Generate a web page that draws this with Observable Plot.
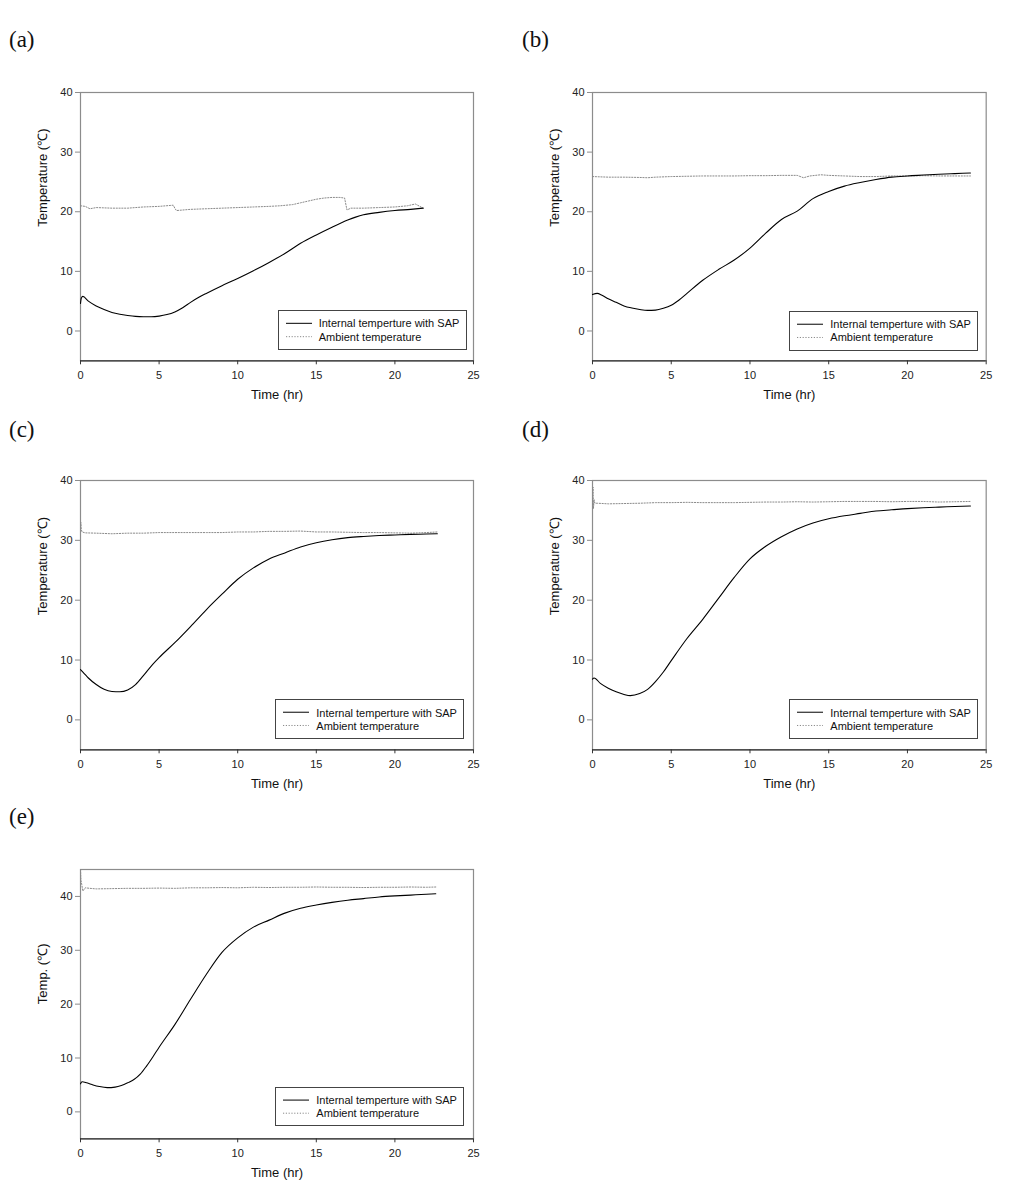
<!DOCTYPE html>
<html>
<head>
<meta charset="utf-8">
<script src="https://cdn.jsdelivr.net/npm/d3@7"></script>
<script src="https://cdn.jsdelivr.net/npm/@observablehq/plot@0.6"></script>
<style>
  html, body { margin: 0; padding: 0; background: #fff; }
  body { width: 1021px; height: 1198px; position: relative; overflow: hidden; font-family: "Liberation Sans", Arial, sans-serif; }
  .panel { position: absolute; }
  .plabel { position: absolute; font-family: "Liberation Serif", "Times New Roman", serif; font-size: 23px; color: #111; line-height: 1; }
  .legend { position: absolute; border: 1px solid #444; background: #fff; box-sizing: border-box; font-size: 11px; color: #111; }
  .legend .row { position: absolute; left: 0; white-space: nowrap; }
  .legend svg { position: absolute; left: 0; top: 0; }
  .legend span { position: absolute; left: 40px; white-space: nowrap; }
</style>
</head>
<body>
<script>
// ---------- data ----------
const xTicks = [0, 5, 10, 15, 20, 25];
const yTicks = [0, 10, 20, 30, 40];
const panelLetters = ["(a)", "(b)", "(c)", "(d)", "(e)"];
const yLabels = ["Temperature (\u2103)", "Temperature (\u2103)", "Temperature (\u2103)", "Temperature (\u2103)", "Temp. (\u2103)"];
const seriesNames = ["Internal temperture with SAP", "Ambient temperature"];
const xLabel = "Time (hr)";

// (a)
const aIntT = [0, 0.05, 0.15, 0.5, 1.0, 1.5, 2, 2.5, 3, 3.5, 4, 4.5, 5, 5.5, 6, 6.5, 7, 7.5, 8, 9, 10, 11, 12, 13, 14, 15, 16, 17, 17.5, 18, 19, 20, 21, 21.8];
const aIntV = [4.6, 5.5, 5.8, 5.0, 4.2, 3.6, 3.1, 2.8, 2.6, 2.45, 2.4, 2.4, 2.5, 2.75, 3.2, 3.9, 4.8, 5.6, 6.3, 7.6, 8.8, 10.1, 11.5, 13.0, 14.7, 16.1, 17.4, 18.6, 19.1, 19.5, 19.9, 20.2, 20.4, 20.6];
const aAmbT = [0, 0.3, 0.6, 1.0, 2, 3, 4, 5, 5.9, 6.0, 6.1, 7, 8, 9, 10, 11, 12, 12.7, 13.5, 14, 14.5, 15, 15.5, 16, 16.5, 16.8, 16.95, 17.2, 18, 19, 20, 20.8, 21.3, 21.8];
const aAmbV = [21.0, 20.9, 20.5, 20.7, 20.6, 20.6, 20.8, 20.9, 21.1, 20.6, 20.2, 20.4, 20.5, 20.6, 20.7, 20.8, 20.9, 21.0, 21.2, 21.5, 21.8, 22.1, 22.3, 22.4, 22.4, 22.3, 20.3, 20.6, 20.6, 20.7, 20.8, 21.0, 21.3, 20.6];

// (b)
const bIntT = [0, 0.3, 0.6, 1, 1.5, 2, 2.5, 3, 3.5, 4, 4.5, 5, 5.5, 6, 7, 8, 9, 10, 11, 12, 13, 14, 15, 16, 17, 18, 19, 20, 21, 22, 23, 24];
const bIntV = [6.1, 6.3, 6.0, 5.4, 4.8, 4.2, 3.85, 3.6, 3.45, 3.5, 3.8, 4.3, 5.2, 6.3, 8.5, 10.3, 11.9, 13.9, 16.4, 18.7, 20.1, 22.2, 23.4, 24.3, 24.9, 25.4, 25.8, 26.0, 26.15, 26.3, 26.4, 26.5];
const bAmbT = [0, 1, 2, 3, 3.5, 4, 5, 6, 7, 8, 9, 10, 11, 12, 13, 13.4, 13.8, 14.5, 15, 16, 17, 18, 19, 20, 21, 22, 23, 24];
const bAmbV = [25.9, 25.8, 25.8, 25.75, 25.7, 25.8, 25.9, 25.95, 26.0, 26.0, 26.0, 26.05, 26.05, 26.1, 26.1, 25.7, 26.0, 26.2, 26.1, 26.0, 25.9, 25.9, 26.0, 26.0, 26.05, 26.0, 26.0, 26.0];

// (c)
const cIntT = [0, 0.25, 0.5, 1, 1.5, 2, 2.5, 3, 3.5, 4, 4.5, 5, 6, 7, 8, 9, 10, 11, 12, 13, 14, 15, 16, 17, 18, 19, 20, 21, 22, 22.7];
const cIntV = [8.4, 7.7, 7.0, 5.9, 5.1, 4.75, 4.7, 5.0, 5.9, 7.4, 9.0, 10.4, 12.9, 15.6, 18.4, 21.0, 23.5, 25.4, 26.9, 27.9, 28.9, 29.6, 30.1, 30.45, 30.65, 30.8, 30.9, 31.0, 31.05, 31.1];
const cAmbT = [0, 0.02, 0.05, 0.1, 0.3, 1, 2, 3, 4, 5, 6, 7, 8, 9, 10, 11, 12, 13, 14, 15, 16, 17, 18, 19, 20, 21, 22, 22.7];
const cAmbV = [32.0, 33.0, 31.8, 31.4, 31.25, 31.2, 31.1, 31.2, 31.2, 31.3, 31.3, 31.3, 31.3, 31.3, 31.4, 31.4, 31.5, 31.5, 31.55, 31.4, 31.4, 31.35, 31.3, 31.3, 31.25, 31.2, 31.3, 31.4];

// (d)
const dIntT = [0, 0.1, 0.5, 1, 1.5, 2, 2.4, 3, 3.5, 4, 4.5, 5, 6, 7, 8, 9, 10, 11, 12, 13, 14, 15, 16, 17, 18, 19, 20, 21, 22, 23, 24];
const dIntV = [6.8, 7.0, 6.1, 5.3, 4.7, 4.25, 4.05, 4.4, 5.1, 6.4, 8.0, 9.9, 13.6, 16.8, 20.3, 23.8, 26.9, 29.0, 30.6, 31.9, 32.9, 33.6, 34.1, 34.5, 34.9, 35.1, 35.3, 35.45, 35.55, 35.65, 35.75];
const dAmbT = [0, 0.03, 0.06, 0.1, 0.15, 0.3, 1, 2, 3, 4, 5, 6, 7, 8, 9, 10, 11, 12, 13, 14, 15, 16, 17, 18, 19, 20, 21, 22, 23, 24];
const dAmbV = [36.0, 38.9, 35.3, 36.8, 36.2, 36.2, 36.1, 36.15, 36.2, 36.3, 36.3, 36.35, 36.3, 36.3, 36.3, 36.35, 36.4, 36.4, 36.45, 36.4, 36.45, 36.5, 36.5, 36.5, 36.45, 36.5, 36.5, 36.4, 36.45, 36.5];

// (e)
const eIntT = [0, 0.1, 0.4, 0.8, 1.2, 1.7, 2.2, 2.6, 3, 3.4, 3.8, 4.2, 4.6, 5, 6, 7, 8, 9, 10, 11, 12, 13, 14, 15, 16, 17, 18, 19, 20, 21, 22, 22.6];
const eIntV = [5.2, 5.6, 5.4, 5.0, 4.7, 4.5, 4.6, 4.9, 5.4, 6.0, 7.0, 8.5, 10.2, 12.0, 16.2, 20.9, 25.5, 29.6, 32.3, 34.3, 35.6, 36.9, 37.8, 38.4, 38.9, 39.3, 39.6, 39.9, 40.1, 40.25, 40.4, 40.5];
const eAmbT = [0, 0.03, 0.08, 0.15, 0.3, 0.6, 1, 2, 3, 4, 5, 6, 7, 8, 9, 10, 11, 12, 13, 14, 15, 16, 17, 18, 19, 20, 21, 22, 22.6];
const eAmbV = [45.0, 43.0, 42.2, 41.0, 41.6, 41.5, 41.4, 41.45, 41.5, 41.5, 41.55, 41.5, 41.6, 41.6, 41.65, 41.6, 41.7, 41.65, 41.7, 41.7, 41.75, 41.7, 41.7, 41.65, 41.7, 41.7, 41.75, 41.7, 41.75];

const yDomains = [[-5, 40], [-5, 40], [-5, 40], [-5, 40], [-5, 45]];

// ---------- layout (pixel frames) ----------
const frames = [
  {L: 80,    T: 91.7, R: 473, B: 360},
  {L: 592.3, T: 91.7, R: 986, B: 360},
  {L: 80,    T: 480,  R: 473, B: 749.3},
  {L: 592.3, T: 480,  R: 986, B: 749.3},
  {L: 80,    T: 869,  R: 473, B: 1138.3}
];
const letterPos = [[9, 28], [522, 28], [9, 418], [522, 418], [9, 805]];
const legendPos = [
  {l: 277.7, t: 310, r: 466.7, b: 350},
  {l: 789.3, t: 311, r: 978.3, b: 350.7},
  {l: 275.3, t: 699.3, r: 464.3, b: 739},
  {l: 789.3, t: 699.3, r: 978.3, b: 739},
  {l: 275.3, t: 1086.7, r: 464.3, b: 1126}
];

const series = [
  [aIntT, aIntV, aAmbT, aAmbV],
  [bIntT, bIntV, bAmbT, bAmbV],
  [cIntT, cIntV, cAmbT, cAmbV],
  [dIntT, dIntV, dAmbT, dAmbV],
  [eIntT, eIntV, eAmbT, eAmbV]
];

const ambStroke = "#8a8a8a";
const ambDash = "1.2,1.6";

function toRows(ts, vs) { return ts.map((t, i) => ({t, v: vs[i]})); }

const mL = 80, mT = 30, mR = 35, mB = 55;

series.forEach((s, i) => {
  const f = frames[i];
  const W = (f.R - f.L) + mL + mR;
  const H = (f.B - f.T) + mT + mB;
  const yd = yDomains[i];
  const internal = toRows(s[0], s[1]);
  const ambient = toRows(s[2], s[3]);
  const chart = Plot.plot({
    width: W,
    height: H,
    marginLeft: mL, marginTop: mT, marginRight: mR, marginBottom: mB,
    x: {domain: [0, 25]},
    y: {domain: yd},
    style: {fontFamily: "'Liberation Sans', Arial, sans-serif", background: "transparent", overflow: "visible"},
    marks: [
      Plot.frame({stroke: "#8c8c8c", strokeWidth: 1.2}),
      Plot.ruleY([yd[0]], {stroke: "#333", strokeWidth: 1.2}),
      Plot.axisY({ticks: yTicks, tickSize: 5, tickPadding: 3, stroke: "#8c8c8c", fill: "#222", fontSize: 11, label: null, tickFormat: d => String(d)}),
      Plot.axisX({ticks: xTicks, tickSize: 4, tickPadding: 6, stroke: "#333", fill: "#222", fontSize: 11, label: null, tickFormat: d => String(d)}),
      Plot.line(ambient, {x: "t", y: "v", stroke: ambStroke, strokeWidth: 1, strokeDasharray: ambDash, clip: true}),
      Plot.line(internal, {x: "t", y: "v", stroke: "#000", strokeWidth: 1.1, curve: "monotone-x", clip: true}),
      Plot.text([yLabels[i]], {frameAnchor: "left", dx: -38, rotate: -90, fontSize: 13, fill: "#111", text: d => d}),
      Plot.text([xLabel], {frameAnchor: "bottom", dy: 38, fontSize: 13, fill: "#111", text: d => d})
    ]
  });
  const wrap = document.createElement("div");
  wrap.className = "panel";
  wrap.style.left = (f.L - mL) + "px";
  wrap.style.top = (f.T - mT) + "px";
  wrap.appendChild(chart);
  document.body.appendChild(wrap);

  // panel letter
  const lab = document.createElement("div");
  lab.className = "plabel";
  lab.style.left = letterPos[i][0] + "px";
  lab.style.top = letterPos[i][1] + "px";
  lab.textContent = panelLetters[i];
  document.body.appendChild(lab);

  // legend
  const lp = legendPos[i];
  const lg = document.createElement("div");
  lg.className = "legend";
  lg.style.left = lp.l + "px";
  lg.style.top = lp.t + "px";
  lg.style.width = (lp.r - lp.l) + "px";
  lg.style.height = (lp.b - lp.t) + "px";
  const h = lp.b - lp.t;
  const y1 = h * 0.333 - 1, y2 = h * 0.667 - 1;
  const ns = "http://www.w3.org/2000/svg";
  const sv = document.createElementNS(ns, "svg");
  sv.setAttribute("width", 40); sv.setAttribute("height", h);
  const l1 = document.createElementNS(ns, "line");
  l1.setAttribute("x1", 7); l1.setAttribute("x2", 33); l1.setAttribute("y1", y1); l1.setAttribute("y2", y1);
  l1.setAttribute("stroke", "#000"); l1.setAttribute("stroke-width", 1);
  const l2 = document.createElementNS(ns, "line");
  l2.setAttribute("x1", 7); l2.setAttribute("x2", 33); l2.setAttribute("y1", y2); l2.setAttribute("y2", y2);
  l2.setAttribute("stroke", ambStroke); l2.setAttribute("stroke-width", 1); l2.setAttribute("stroke-dasharray", ambDash);
  sv.appendChild(l1); sv.appendChild(l2);
  lg.appendChild(sv);
  [y1, y2].forEach((yy, k) => {
    const sp = document.createElement("span");
    sp.textContent = seriesNames[k];
    sp.style.top = (yy - 7) + "px";
    sp.style.lineHeight = "14px";
    lg.appendChild(sp);
  });
  document.body.appendChild(lg);
});
</script>
</body>
</html>
